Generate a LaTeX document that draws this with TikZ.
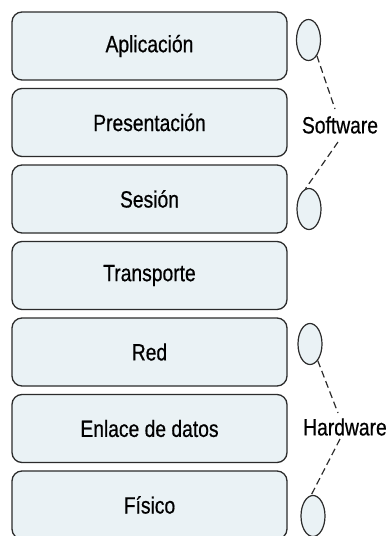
\documentclass[tikz,border=0pt]{standalone}
\usepackage{fontspec}
\setmainfont[FakeStretch=0.82,FakeBold=0.6]{Liberation Sans}
\usetikzlibrary{shapes.geometric}
\definecolor{boxfill}{HTML}{EAF2F5}
\definecolor{boxline}{HTML}{2B2B2B}
\tikzset{
  layer/.style={draw=boxline, fill=boxfill, line width=1.3pt, rounded corners=10pt,
    minimum width=275pt, minimum height=68pt, inner sep=0pt,
    font=\fontsize{23.5}{25}\selectfont},
  oval/.style={ellipse, draw=boxline, fill=boxfill, line width=1.2pt,
    minimum width=24pt, minimum height=41pt, inner sep=0pt},
  grouplabel/.style={inner sep=0pt, font=\fontsize{23.5}{25}\selectfont},
  link/.style={draw=boxline, line width=1.2pt, dash pattern=on 7pt off 4pt}
}
\begin{document}
\begin{tikzpicture}[x=1pt, y=-1pt]
\useasboundingbox (0,0) rectangle (389,536);
\node[layer] (apl) at (149.5,46) {Aplicación};
\node[layer] (pre) at (149.5,122.5) {Presentación};
\node[layer] (ses) at (149.5,199) {Sesión};
\node[layer] (tra) at (149.5,275.5) {Transporte};
\node[layer] (red) at (149.5,352) {Red};
\node[layer] (enl) at (149.5,428.5) {Enlace de datos};
\node[layer] (fis) at (149.5,505) {Físico};

\node[oval] (s1) at (308.5,40) {};
\node[oval] (s2) at (309,209) {};
\node[oval] (h1) at (310,344) {};
\node[oval] (h2) at (313,516) {};

\node[grouplabel] (sw) at (340,125) {Software};
\node[grouplabel] (hw) at (345,427) {Hardware};

\coordinate (swt) at (335,109);
\coordinate (swb) at (338,142);
\coordinate (hwt) at (338,413);
\coordinate (hwb) at (340,439);

\draw[link] (s1.-62) -- (swt);
\draw[link] (swb) -- (s2.100);
\draw[link] (h1.-65) -- (hwt);
\draw[link] (hwb) -- (h2.95);
\end{tikzpicture}
\end{document}
